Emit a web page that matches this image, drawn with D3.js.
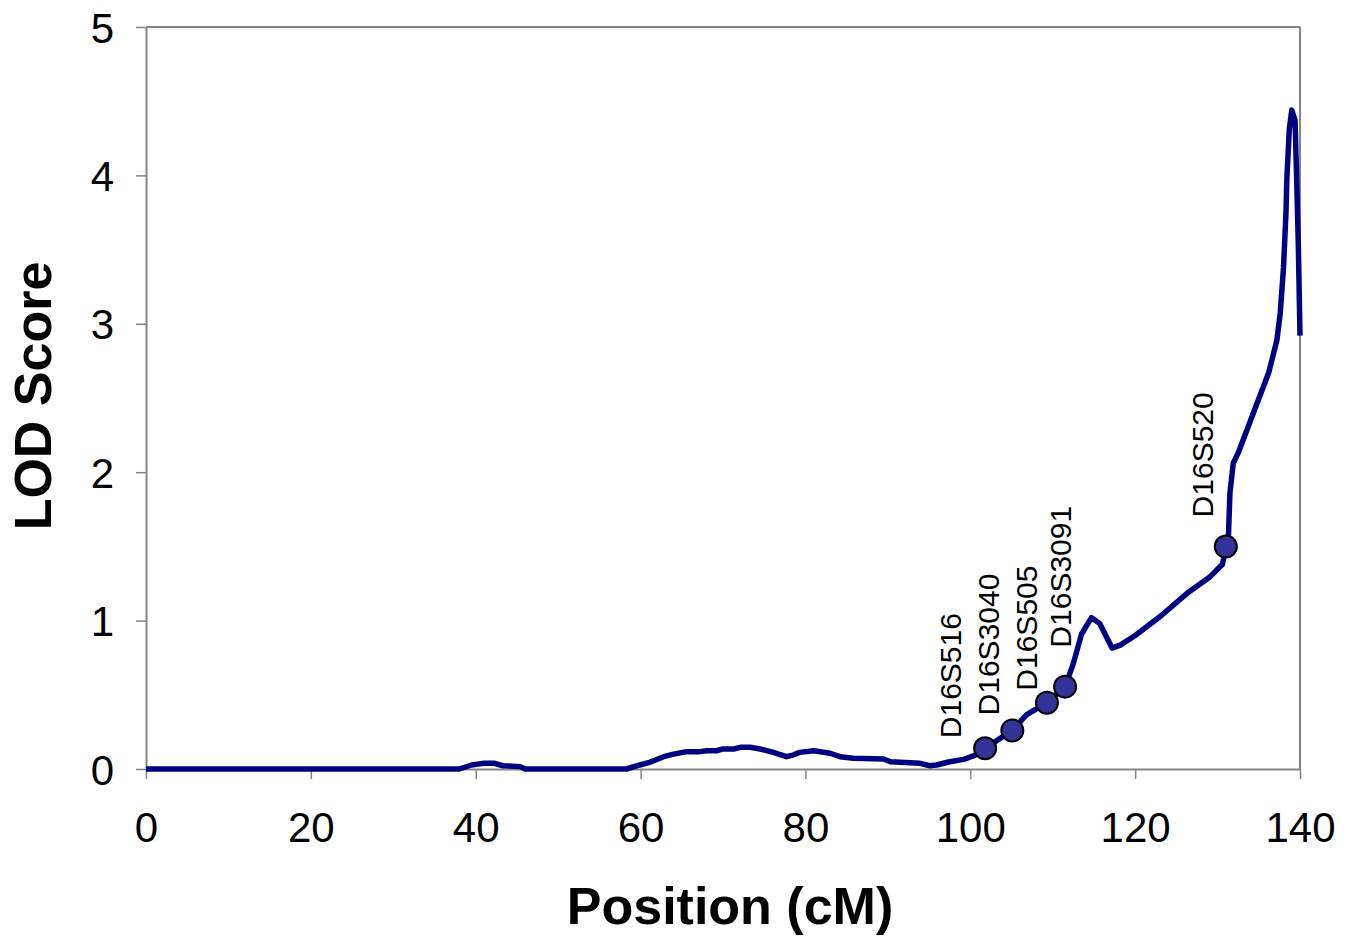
<!DOCTYPE html>
<html>
<head>
<meta charset="utf-8">
<script src="https://cdn.jsdelivr.net/npm/d3@7"></script>
<style>
  html, body { margin: 0; padding: 0; background: #fff; }
  svg { display: block; font-family: "Liberation Sans", Arial, sans-serif; }
</style>
</head>
<body>
<svg id="chart" width="1355" height="937"></svg>
<script>
// ---- data ----
const positions = [0, 38, 39.5, 40.9, 42.3, 43.3, 45.4, 46.0, 58.3, 59.9, 61.1, 62.8, 64.0, 65.6, 67.2, 68.0,
  69.2, 70.0, 71.3, 72.1, 73.3, 74.5, 76.1, 77.7, 78.5, 79.3, 81.0, 83.0, 84.2, 85.8, 89.5, 90.3, 93.9,
  95.1, 95.9, 97.5, 99.2, 100.6, 101.8, 105.1, 106.8, 109.3, 111.5, 112.5, 113.5, 114.7, 115.7, 117.2,
  118.2, 120.0, 123.0, 126.3, 129.1, 130.6, 131.0, 131.3, 131.5, 131.9, 132.5, 136.2, 137.2, 137.6,
  138.0, 138.3, 138.4, 138.7, 139.0, 139.4, 139.6, 139.8, 139.95, 140.0];
const lodScores = [0, 0, 0.027, 0.038, 0.038, 0.022, 0.016, 0, 0, 0.027, 0.045, 0.083, 0.100, 0.117, 0.117, 0.123,
  0.123, 0.135, 0.135, 0.146, 0.146, 0.135, 0.112, 0.083, 0.094, 0.112, 0.123, 0.106, 0.083, 0.072, 0.067, 0.049, 0.038,
  0.022, 0.027, 0.049, 0.065, 0.094, 0.14, 0.26, 0.364, 0.447, 0.555, 0.71, 0.91, 1.02, 0.98, 0.815,
  0.835, 0.90, 1.026, 1.184, 1.296, 1.38, 1.50, 1.54, 1.86, 2.06, 2.13, 2.67, 2.89, 3.07,
  3.38, 3.75, 3.97, 4.31, 4.44, 4.37, 3.97, 3.52, 3.07, 2.92];

const markerNames = ["D16S516", "D16S3040", "D16S505", "D16S3091", "D16S520"];
const markerPositions = [101.8, 105.1, 109.3, 111.5, 131.0];
const markerLods = [0.14, 0.26, 0.447, 0.555, 1.50];

const xTicks = [0, 20, 40, 60, 80, 100, 120, 140];
const yTicks = [0, 1, 2, 3, 4, 5];
const xTitle = "Position (cM)";
const yTitle = "LOD Score";

// ---- layout (kept separate from data) ----
const W = 1355, H = 937;
const margin = { left: 146, top: 27, right: 55, bottom: 168 };
const labelOffsets = [[-24, -10], [-13, -15], [-10, -12], [6, -39], [-13, -29]];

const svg = d3.select("#chart");
const x = d3.scaleLinear().domain([0, 140]).range([margin.left, W - margin.right]);
const y = d3.scaleLinear().domain([0, 5]).range([H - margin.bottom, margin.top]);

const axisColor = "#858585";

// frame top and right
svg.append("line").attr("x1", x(0)).attr("x2", x(140)).attr("y1", y(5)).attr("y2", y(5))
  .attr("stroke", axisColor).attr("stroke-width", 2);
svg.append("line").attr("x1", x(140)).attr("x2", x(140)).attr("y1", y(5)).attr("y2", y(0))
  .attr("stroke", axisColor).attr("stroke-width", 2);

// y axis
const yAxis = svg.append("g").attr("transform", `translate(${x(0)},0)`)
  .call(d3.axisLeft(y).tickValues(yTicks).tickFormat(d3.format("d")).tickSize(10).tickPadding(22).tickSizeOuter(0));
yAxis.select(".domain").attr("stroke", axisColor).attr("stroke-width", 2);
yAxis.selectAll(".tick line").attr("stroke", axisColor).attr("stroke-width", 1.5);
yAxis.selectAll(".tick text").attr("font-size", 42).attr("fill", "#000")
  .attr("font-family", "Liberation Sans, Arial, sans-serif").attr("dy", "0.36em");

// x axis
const xAxis = svg.append("g").attr("transform", `translate(0,${y(0)})`)
  .call(d3.axisBottom(x).tickValues(xTicks).tickFormat(d3.format("d")).tickSize(10).tickSizeOuter(0));
xAxis.select(".domain").attr("stroke", axisColor).attr("stroke-width", 2);
xAxis.selectAll(".tick line").attr("stroke", axisColor).attr("stroke-width", 1.5);
xAxis.selectAll(".tick text").attr("font-size", 42).attr("fill", "#000")
  .attr("font-family", "Liberation Sans, Arial, sans-serif").attr("y", 73).attr("dy", 0);

// line
const pts = positions.map((p, i) => [p, lodScores[i]]);
svg.append("path").datum(pts)
  .attr("fill", "none").attr("stroke", "#000080").attr("stroke-width", 5.5)
  .attr("stroke-linejoin", "round").attr("stroke-linecap", "butt")
  .attr("d", d3.line().x(d => x(d[0])).y(d => y(d[1])));

// markers
const markers = markerNames.map((n, i) => ({ name: n, pos: markerPositions[i], lod: markerLods[i], off: labelOffsets[i] }));
svg.selectAll("circle.marker").data(markers).enter().append("circle")
  .attr("class", "marker")
  .attr("cx", d => x(d.pos)).attr("cy", d => y(d.lod)).attr("r", 11)
  .attr("fill", "#333399").attr("stroke", "#000").attr("stroke-width", 2);

svg.selectAll("text.mlabel").data(markers).enter().append("text")
  .attr("class", "mlabel")
  .attr("transform", d => `translate(${x(d.pos) + d.off[0]},${y(d.lod) + d.off[1]}) rotate(-90)`)
  .attr("font-size", 30).attr("fill", "#000").attr("text-anchor", "start")
  .text(d => d.name);

// axis titles
svg.append("text").attr("x", 730).attr("y", 924)
  .attr("text-anchor", "middle").attr("font-size", 52).attr("font-weight", "bold").attr("fill", "#000")
  .text(xTitle);
svg.append("text").attr("transform", `translate(51,${396}) rotate(-90)`)
  .attr("text-anchor", "middle").attr("font-size", 52).attr("font-weight", "bold").attr("fill", "#000")
  .text(yTitle);
</script>
</body>
</html>
